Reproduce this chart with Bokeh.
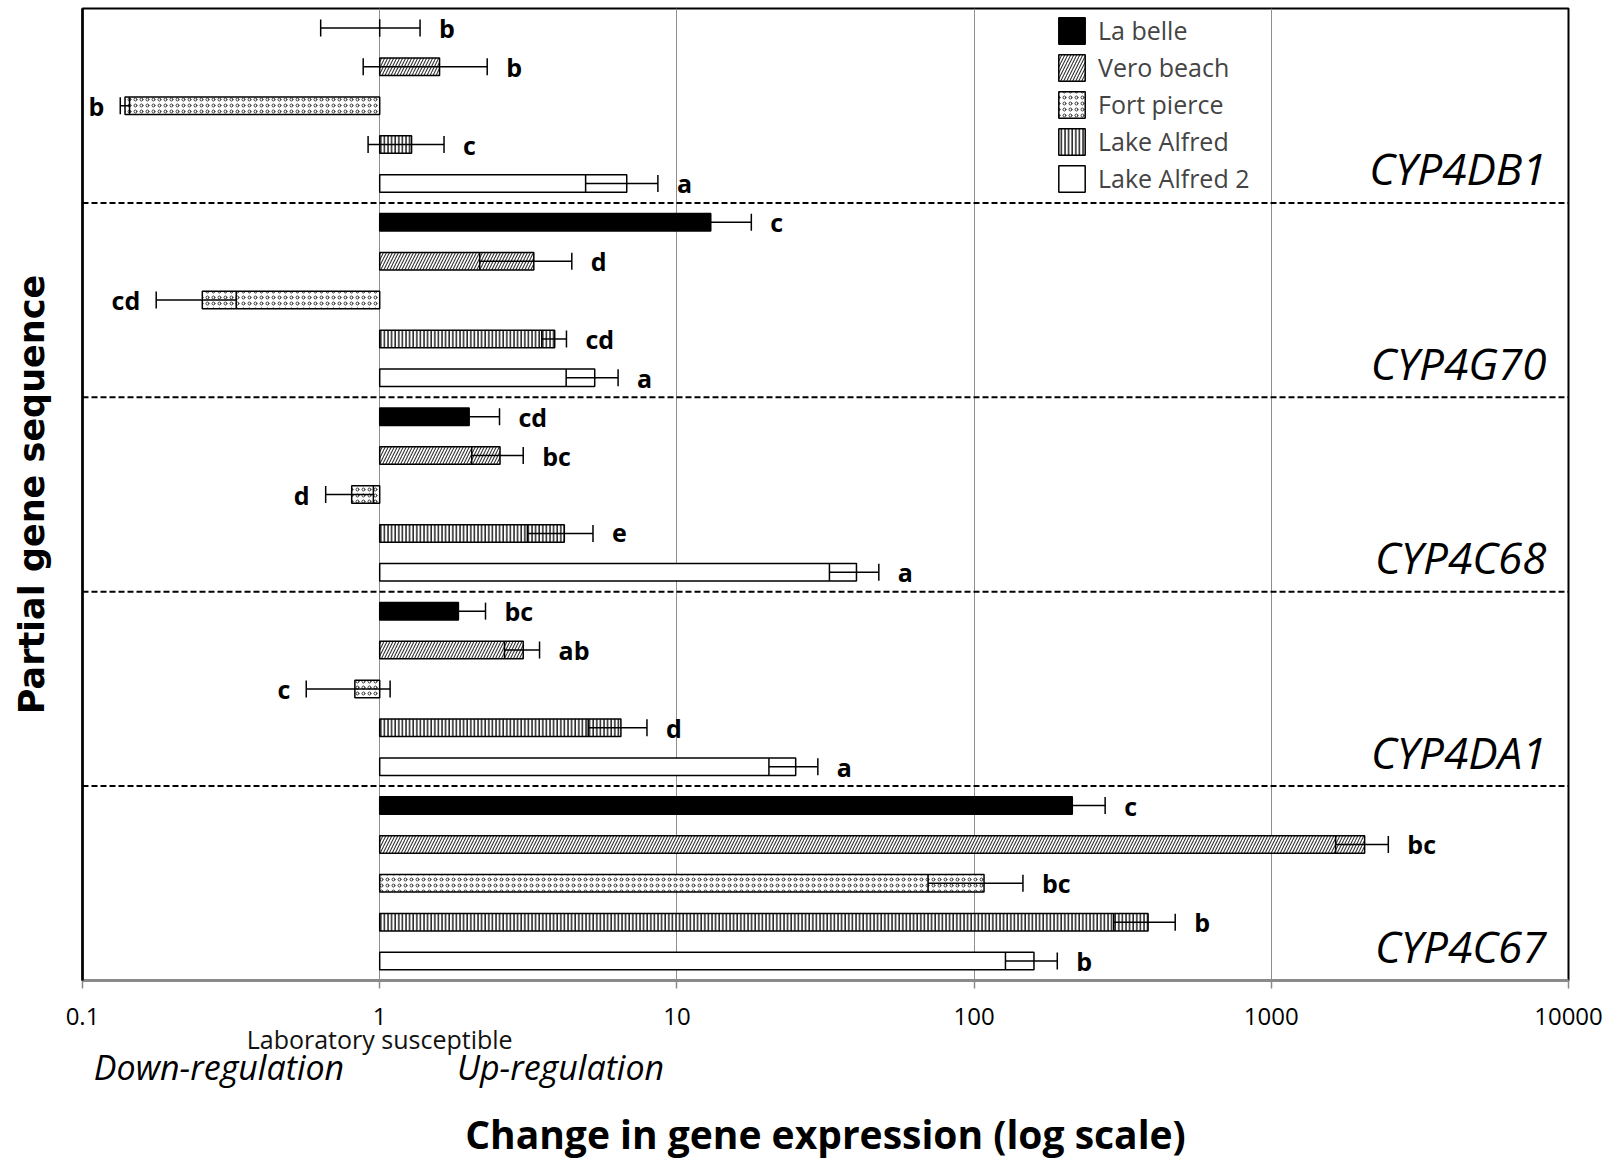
import math
from bokeh.plotting import figure
from bokeh.models import (ColumnDataSource, FactorRange, FixedTicker, LinearAxis, LogAxis,
                          Span, Legend, LegendItem, Range1d, Grid)
from bokeh.core.properties import value
from bokeh.embed import file_html
from bokeh.resources import INLINE

# ---------------- data ----------------
genes = ["CYP4DB1", "CYP4G70", "CYP4C68", "CYP4DA1", "CYP4C67"]
populations = ["La belle", "Vero beach", "Fort pierce", "Lake Alfred", "Lake Alfred 2"]

# fold change vs laboratory susceptible strain (order = populations)
cyp4db1_values = [1.0, 1.59, 0.139, 1.28, 6.78]
cyp4g70_values = [13.0, 3.30, 0.253, 3.88, 5.29]
cyp4c68_values = [2.00, 2.54, 0.805, 4.18, 40.2]
cyp4da1_values = [1.84, 3.04, 0.825, 6.48, 25.1]
cyp4c67_values = [214, 2061, 108, 385, 159]

cyp4db1_errors = [0.367, 0.71, 0.005, 0.366, 1.85]
cyp4g70_errors = [4.8, 1.13, 0.076, 0.37, 1.05]
cyp4c68_errors = [0.53, 0.50, 0.147, 1.04, 7.6]
cyp4da1_errors = [0.43, 0.41, 0.259, 1.45, 4.7]
cyp4c67_errors = [62, 415, 38, 90, 31.5]

cyp4db1_letters = ["b", "b", "b", "c", "a"]
cyp4g70_letters = ["c", "d", "cd", "cd", "a"]
cyp4c68_letters = ["cd", "bc", "d", "e", "a"]
cyp4da1_letters = ["bc", "ab", "c", "d", "a"]
cyp4c67_letters = ["c", "bc", "bc", "b", "b"]

tick_values = [0.1, 1, 10, 100, 1000, 10000]
tick_labels = ["0.1", "1", "10", "100", "1000", "10000"]

values = [cyp4db1_values, cyp4g70_values, cyp4c68_values, cyp4da1_values, cyp4c67_values]
errors = [cyp4db1_errors, cyp4g70_errors, cyp4c68_errors, cyp4da1_errors, cyp4c67_errors]
letters = [cyp4db1_letters, cyp4g70_letters, cyp4c68_letters, cyp4da1_letters, cyp4c67_letters]

# ---------------- figure ----------------
factors_top_down = [(g, pop) for g in genes for pop in populations]
factors_bottom_up = list(reversed(factors_top_down))

FONT = "Open Sans"

p = figure(width=1612, height=1162, x_axis_type="log",
           x_range=Range1d(0.1, 10000),
           y_range=FactorRange(factors=factors_bottom_up, range_padding=0,
                               group_padding=0, factor_padding=0),
           x_axis_location=None, y_axis_location=None,
           output_backend="svg", toolbar_location=None,
           min_border_left=82, min_border_right=44, min_border_top=8, min_border_bottom=182)

p.outline_line_color = "black"
p.outline_line_width = 2
p.background_fill_color = "white"
p.border_fill_color = "white"
for g in list(p.xgrid) + list(p.ygrid):
    g.visible = False

p.add_layout(Grid(dimension=0, ticker=FixedTicker(ticks=tick_values),
                  grid_line_color="#8f8f8f", grid_line_width=1))

# separators between gene groups
for k in range(1, len(genes)):
    p.add_layout(Span(location=k * len(populations), dimension="width",
                      line_color="black", line_width=2, line_dash="6 3"))

# bar styles
styles = [
    dict(fill_color="black", hatch_pattern=None),
    dict(fill_color="white", hatch_pattern="right_diagonal_line", hatch_color="#333333",
         hatch_scale=6, hatch_weight=1.1),
    dict(fill_color="white", hatch_pattern="ring", hatch_color="#333333",
         hatch_scale=6, hatch_weight=1),
    dict(fill_color="white", hatch_pattern="vertical_line", hatch_color="black",
         hatch_scale=3.6, hatch_weight=1.3),
    dict(fill_color="white", hatch_pattern=None),
]

legend_items = []
for j, pop in enumerate(populations):
    ys = [(g, pop) for g in genes]
    v = [values[i][j] for i in range(len(genes))]
    src = ColumnDataSource(dict(y=ys, v=v))
    st = dict(styles[j])
    hp = st.pop("hatch_pattern")
    kw = dict(st)
    if hp is not None:
        kw["hatch_pattern"] = hp
    r = p.hbar(y="y", left=1, right="v", height=0.45, source=src,
               line_color="black", line_width=1.5, **kw)
    legend_items.append(LegendItem(label=pop, renderers=[r]))

# error bars
ys, lo, hi = [], [], []
for i, g in enumerate(genes):
    for j, pop in enumerate(populations):
        ys.append((g, pop))
        lo.append(values[i][j] - errors[i][j])
        hi.append(values[i][j] + errors[i][j])
esrc = ColumnDataSource(dict(y=ys, lo=lo, hi=hi))
p.segment(x0="lo", y0="y", x1="hi", y1="y", source=esrc, line_color="black", line_width=1.5)
p.scatter(x="lo", y="y", source=esrc, marker="dash", size=17, angle=math.pi / 2,
          line_color="black", line_width=1.5)
p.scatter(x="hi", y="y", source=esrc, marker="dash", size=17, angle=math.pi / 2,
          line_color="black", line_width=1.5)

# significance letters
ry, rx, rt, ly, lx, lt = [], [], [], [], [], []
for i, g in enumerate(genes):
    for j, pop in enumerate(populations):
        if values[i][j] >= 1:
            ry.append((g, pop)); rx.append(values[i][j] + errors[i][j]); rt.append(letters[i][j])
        else:
            ly.append((g, pop)); lx.append(values[i][j] - errors[i][j]); lt.append(letters[i][j])
p.text(x="x", y="y", text="t", source=ColumnDataSource(dict(x=rx, y=ry, t=rt)),
       x_offset=19, text_align="left", text_baseline="middle",
       text_font=value(FONT), text_font_style="bold", text_font_size="25px", text_color="black")
p.text(x="x", y="y", text="t", source=ColumnDataSource(dict(x=lx, y=ly, t=lt)),
       x_offset=-16, text_align="right", text_baseline="middle",
       text_font=value(FONT), text_font_style="bold", text_font_size="25px", text_color="black")

# gene names
gsrc = ColumnDataSource(dict(x=[10000] * len(genes), y=[(g, populations[-1]) for g in genes], t=genes))
p.text(x="x", y="y", text="t", source=gsrc, x_offset=-22, y_offset=-15,
       text_align="right", text_baseline="middle",
       text_font=value(FONT), text_font_style="italic", text_font_size="44px", text_color="black")

# legend
legend = Legend(items=legend_items, location=(973, 785), orientation="vertical",
                padding=0, margin=0, spacing=3, glyph_width=33, glyph_height=33,
                label_standoff=10, label_height=33, label_text_font=FONT,
                label_text_font_size="25px", border_line_color=None, background_fill_alpha=0)
p.add_layout(legend)

# axes
ax_main = LogAxis(ticker=FixedTicker(ticks=tick_values),
                  major_label_overrides={t: l for t, l in zip(tick_values, tick_labels)},
                  axis_line_color="#8a8a8a", axis_line_width=3,
                  major_tick_line_color="#8a8a8a", major_tick_line_width=1.5,
                  major_tick_out=8, major_tick_in=0, minor_tick_line_color=None,
                  major_label_text_font=FONT, major_label_text_font_size="24px",
                  major_label_text_color="black", major_label_standoff=19)
p.add_layout(ax_main, "below")

ax_ref = LogAxis(ticker=FixedTicker(ticks=[1]), major_label_overrides={1: "Laboratory susceptible"},
                 axis_line_color=None, major_tick_line_color=None, minor_tick_line_color=None,
                 major_tick_out=0, major_tick_in=0,
                 major_label_text_font=FONT, major_label_text_font_size="25px",
                 major_label_text_color="#111111", major_label_standoff=-6)
p.add_layout(ax_ref, "below")

dir_ticks = [0.288, 4.06]
ax_dir = LogAxis(ticker=FixedTicker(ticks=dir_ticks),
                 major_label_overrides={dir_ticks[0]: "Down-regulation", dir_ticks[1]: "Up-regulation"},
                 axis_line_color=None, major_tick_line_color=None, minor_tick_line_color=None,
                 major_tick_out=0, major_tick_in=0,
                 major_label_text_font=FONT, major_label_text_font_style="italic",
                 major_label_text_font_size="34px", major_label_text_color="black",
                 major_label_standoff=-15,
                 axis_label="Change in gene expression (log scale)",
                 axis_label_text_font=FONT, axis_label_text_font_style="bold",
                 axis_label_text_font_size="39px", axis_label_text_color="black",
                 axis_label_standoff=14)
p.add_layout(ax_dir, "below")

ax_y = LinearAxis(ticker=FixedTicker(ticks=[]), axis_label="Partial gene sequence",
                  axis_label_text_font="DejaVu Sans", axis_label_text_font_style="bold",
                  axis_label_text_font_size="35px", axis_label_text_color="black",
                  axis_label_standoff=31, axis_line_color="black", axis_line_width=2.5,
                  major_tick_line_color=None, minor_tick_line_color=None,
                  major_label_text_font_size="0px")
p.add_layout(ax_y, "left")

open("out.html", "w").write(file_html(p, INLINE))
